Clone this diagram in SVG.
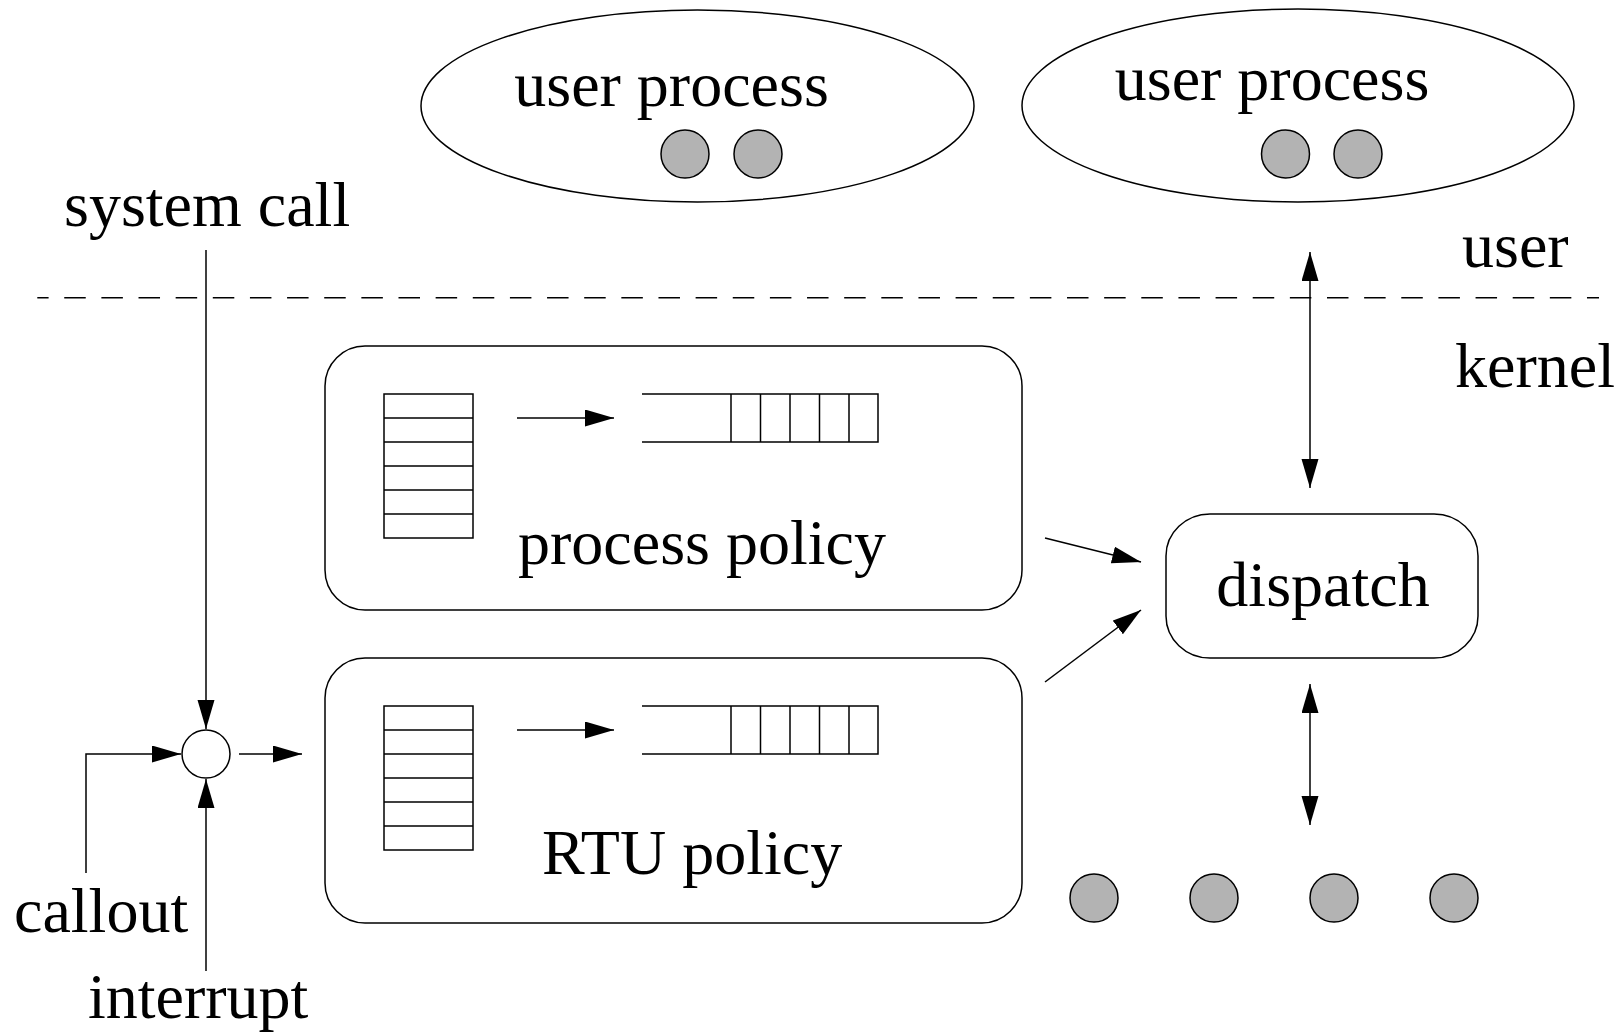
<svg xmlns="http://www.w3.org/2000/svg" width="1623" height="1033" viewBox="0 0 1623 1033">
  <style>
    .ln { fill: none; stroke: #000; stroke-width: 1.5; }
    .shape { fill: #fff; stroke: #000; stroke-width: 1.5; }
    .dot { fill: #b3b3b3; stroke: #000; stroke-width: 1.5; }
    .lbl { font-family: "Liberation Serif", "Times New Roman", serif; font-size: 64px; fill: #000; }
    .arr { fill: none; stroke: #000; stroke-width: 1.5; marker-end: url(#head); }
    .arr2 { fill: none; stroke: #000; stroke-width: 1.5; marker-start: url(#head); marker-end: url(#head); }
  </style>
  <defs>
    <marker id="head" markerUnits="userSpaceOnUse" markerWidth="30" markerHeight="18" refX="29" refY="8.5" orient="auto-start-reverse">
      <path d="M0,0 L29,8.5 L0,17 z" fill="#000"/>
    </marker>
  </defs>
  <rect width="1623" height="1033" fill="#fff"/>

  <!-- user / kernel boundary -->
  <line class="ln" x1="37.3" y1="297.7" x2="1599" y2="297.7" stroke-dasharray="21.5 15.64" stroke-dashoffset="10.2"/>
  <text class="lbl" x="1462" y="267">user</text>
  <text class="lbl" x="1455" y="387">kernel</text>

  <!-- user processes -->
  <g id="user-process-1">
    <ellipse class="shape" cx="697.5" cy="106" rx="276.5" ry="96"/>
    <text class="lbl" x="671.5" y="106" text-anchor="middle">user process</text>
    <circle class="dot" cx="685" cy="154" r="24"/>
    <circle class="dot" cx="758" cy="154" r="24"/>
  </g>
  <g id="user-process-2">
    <ellipse class="shape" cx="1298" cy="105.5" rx="276" ry="96.5"/>
    <text class="lbl" x="1272" y="100" text-anchor="middle">user process</text>
    <circle class="dot" cx="1285.5" cy="154" r="24"/>
    <circle class="dot" cx="1358" cy="154" r="24"/>
  </g>

  <!-- event sources -->
  <g id="system-call">
    <text class="lbl" x="64" y="226">system call</text>
  </g>
  <g id="callout">
    <text class="lbl" x="14" y="932">callout</text>
  </g>
  <g id="interrupt">
    <text class="lbl" x="88" y="1018">interrupt</text>
  </g>
  <g id="junction">
    <circle class="shape" cx="206" cy="754" r="24"/>
  </g>

  <!-- process policy -->
  <g id="process-policy">
    <rect class="shape" x="325" y="346" width="697" height="264" rx="40" ry="40"/>
    <rect class="ln" x="384" y="394" width="89" height="144"/>
    <path class="ln" d="M384,418H473M384,442H473M384,466H473M384,490H473M384,514H473"/>
    <line class="arr" x1="517" y1="418" x2="614" y2="418"/>
    <path class="ln" d="M642,394H878V442H642M731,394V442M760.5,394V442M790,394V442M819.5,394V442M849,394V442"/>
    <text class="lbl" x="518" y="564">process policy</text>
  </g>

  <!-- RTU policy -->
  <g id="rtu-policy">
    <rect class="shape" x="325" y="658" width="697" height="265" rx="40" ry="40"/>
    <rect class="ln" x="384" y="706" width="89" height="144"/>
    <path class="ln" d="M384,730H473M384,754H473M384,778H473M384,802H473M384,826H473"/>
    <line class="arr" x1="517" y1="730" x2="614" y2="730"/>
    <path class="ln" d="M642,706H878V754H642M731,706V754M760.5,706V754M790,706V754M819.5,706V754M849,706V754"/>
    <text class="lbl" x="542" y="874">RTU policy</text>
  </g>

  <!-- dispatcher -->
  <g id="dispatch">
    <rect class="shape" x="1166" y="514" width="312" height="144" rx="44" ry="42"/>
    <text class="lbl" x="1323" y="606" text-anchor="middle">dispatch</text>
  </g>

  <!-- CPUs -->
  <g id="cpus">
    <circle class="dot" cx="1094" cy="898" r="24"/>
    <circle class="dot" cx="1214" cy="898" r="24"/>
    <circle class="dot" cx="1334" cy="898" r="24"/>
    <circle class="dot" cx="1454" cy="898" r="24"/>
  </g>

  <!-- connectors -->
  <g id="connectors">
    <line class="arr" x1="206" y1="250" x2="206" y2="729"/>
    <polyline class="arr" points="86,873 86,754 181,754"/>
    <line class="arr" x1="206" y1="971" x2="206" y2="779"/>
    <line class="arr" x1="239" y1="754" x2="302" y2="754"/>
    <line class="arr" x1="1045" y1="538" x2="1141" y2="562"/>
    <line class="arr" x1="1045" y1="682" x2="1141" y2="610"/>
    <line class="arr2" x1="1310" y1="252" x2="1310" y2="488"/>
    <line class="arr2" x1="1310" y1="684" x2="1310" y2="825"/>
  </g>
</svg>
